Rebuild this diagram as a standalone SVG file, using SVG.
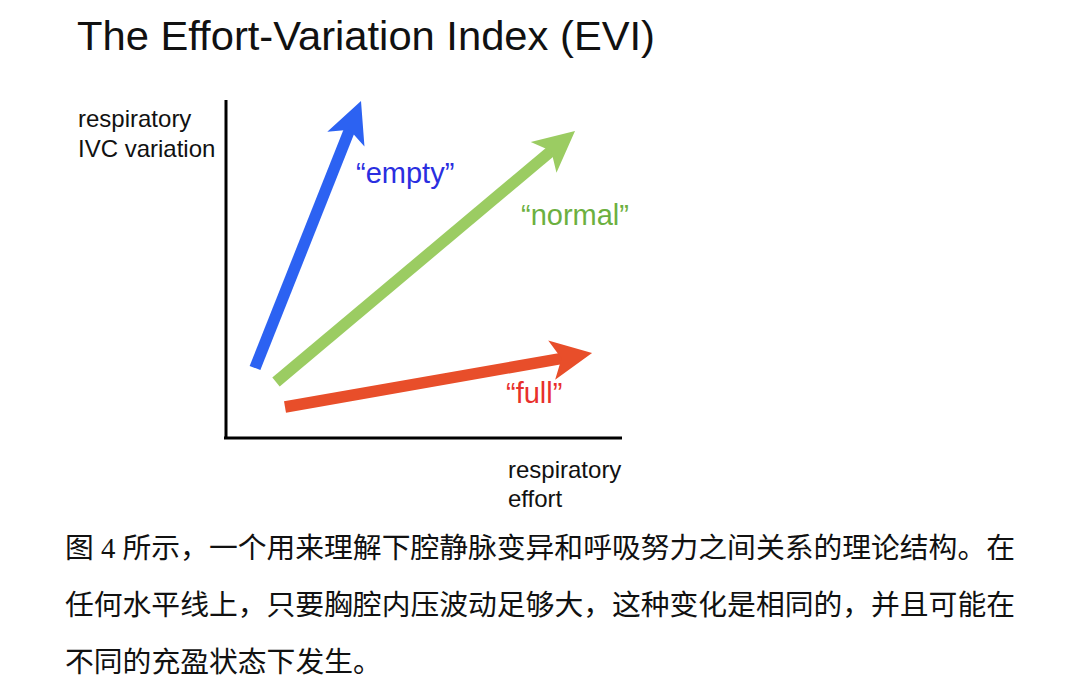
<svg xmlns="http://www.w3.org/2000/svg" width="1080" height="683" viewBox="0 0 1080 683">
  <style>
    .title { font-family: "Liberation Sans", Arial, sans-serif; font-size: 41.5px; fill: #111; }
    .axislbl { font-family: "Liberation Sans", Arial, sans-serif; font-size: 24px; fill: #111; }
    .lbl { font-family: "Liberation Sans", Arial, sans-serif; font-size: 29px; }
    .cap { font-family: "Liberation Serif", "Noto Sans CJK SC", serif; font-size: 28.8px; fill: #111; }
    .axis { stroke: #000; stroke-width: 3; fill: none; }
    .shaft { fill: none; stroke-width: 11.5; stroke-linecap: butt; }
  </style>
  <defs>
    <marker id="hb" markerUnits="userSpaceOnUse" markerWidth="42" markerHeight="42" viewBox="0 -21 42 42" refX="12" refY="0" orient="auto">
      <path d="M0,-20 L41,0 L0,20 L10,0 Z" fill="#2C62F2"/>
    </marker>
    <marker id="hg" markerUnits="userSpaceOnUse" markerWidth="42" markerHeight="42" viewBox="0 -21 42 42" refX="12" refY="0" orient="auto">
      <path d="M0,-20 L41,0 L0,20 L10,0 Z" fill="#9BCC62"/>
    </marker>
    <marker id="hr" markerUnits="userSpaceOnUse" markerWidth="42" markerHeight="42" viewBox="0 -21 42 42" refX="12" refY="0" orient="auto">
      <path d="M0,-20 L41,0 L0,20 L10,0 Z" fill="#E84E2A"/>
    </marker>
  </defs>

  <g id="title">
    <text class="title" x="77" y="50" textLength="578" lengthAdjust="spacingAndGlyphs">The Effort-Variation Index (EVI)</text>
  </g>

  <g id="axes">
    <line class="axis" x1="226" y1="100" x2="226" y2="439"/>
    <line class="axis" x1="224" y1="438" x2="622" y2="438"/>
  </g>

  <g id="y-label">
    <text class="axislbl" x="78" y="127">respiratory</text>
    <text class="axislbl" x="78" y="157">IVC variation</text>
  </g>

  <g id="x-label">
    <text class="axislbl" x="508" y="478">respiratory</text>
    <text class="axislbl" x="508" y="507">effort</text>
  </g>

  <g id="connectors">
    <line class="shaft" stroke="#2C62F2" x1="255" y1="368" x2="350.3" y2="128" marker-end="url(#hb)"/>
    <line class="shaft" stroke="#9BCC62" x1="276" y1="382" x2="552.8" y2="149.6" marker-end="url(#hg)"/>
    <line class="shaft" stroke="#E84E2A" x1="285" y1="407" x2="563.5" y2="358.1" marker-end="url(#hr)"/>
  </g>

  <g id="empty">
    <text class="lbl" x="356" y="183" fill="#2A2EE0">“empty”</text>
  </g>
  <g id="normal">
    <text class="lbl" x="521" y="225" fill="#6CB03F">“normal”</text>
  </g>
  <g id="full">
    <text class="lbl" x="506" y="403" fill="#E8302C">“full”</text>
  </g>

  <g id="caption">
    <text class="cap" x="65" y="558" textLength="950" lengthAdjust="spacing">图 4 所示，一个用来理解下腔静脉变异和呼吸努力之间关系的理论结构。在</text>
    <text class="cap" x="65" y="615" textLength="950" lengthAdjust="spacing">任何水平线上，只要胸腔内压波动足够大，这种变化是相同的，并且可能在</text>
    <text class="cap" x="65" y="672">不同的充盈状态下发生。</text>
  </g>
</svg>
